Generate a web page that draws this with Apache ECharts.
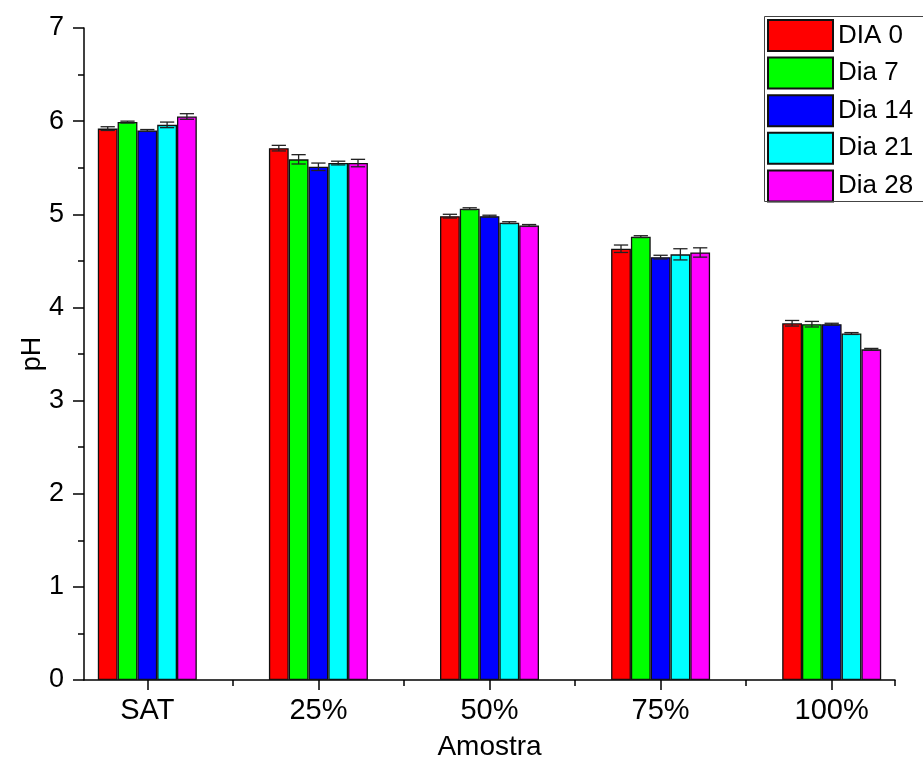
<!DOCTYPE html>
<html>
<head>
<meta charset="utf-8">
<script src="https://cdn.jsdelivr.net/npm/echarts@6/dist/echarts.min.js"></script>
<style>html,body{margin:0;padding:0;background:#fff}#c{width:923px;height:760px}</style>
</head>
<body>
<div id="c"></div>
<script>
const categories = ['SAT', '25%', '50%', '75%', '100%'];
const seriesNames = ['DIA 0', 'Dia 7', 'Dia 14', 'Dia 21', 'Dia 28'];
const colors = ['#ff0000', '#00ff00', '#0000ff', '#00ffff', '#ff00ff'];
const dia0 = [5.92, 5.71, 4.98, 4.63, 3.83];
const dia7 = [5.99, 5.59, 5.06, 4.76, 3.82];
const dia14 = [5.90, 5.51, 4.98, 4.54, 3.82];
const dia21 = [5.96, 5.55, 4.91, 4.57, 3.72];
const dia28 = [6.05, 5.55, 4.88, 4.59, 3.55];
const err0 = [0.02, 0.03, 0.02, 0.04, 0.03];
const err7 = [0.01, 0.05, 0.01, 0.01, 0.03];
const err14 = [0.01, 0.04, 0.01, 0.02, 0.01];
const err21 = [0.03, 0.02, 0.01, 0.06, 0.01];
const err28 = [0.03, 0.04, 0.01, 0.05, 0.01];
const yTicks = [0, 1, 2, 3, 4, 5, 6, 7];

const values = [dia0, dia7, dia14, dia21, dia28];
const errs = [err0, err7, err14, err21, err28];
const BAR_FRAC = 0.1157;
const FONT = "'Liberation Sans', Arial, sans-serif";

const chart = echarts.init(document.getElementById('c'));
const series = [];
values.forEach((vals, k) => {
  series.push({
    name: seriesNames[k],
    type: 'bar',
    xAxisIndex: 0,
    barWidth: (BAR_FRAC * 100) + '%',
    barGap: '0%',
    itemStyle: { color: colors[k], borderColor: '#111', borderWidth: 1.3 },
    data: vals.map((v, i) => [i, v])
  });
});
values.forEach((vals, k) => {
  series.push({
    type: 'custom',
    xAxisIndex: 0,
    z: 5,
    silent: true,
    data: vals.map((v, i) => [i, v, errs[k][i]]),
    renderItem: function (params, api) {
      const x = api.value(0), y = api.value(1), e = api.value(2);
      const band = api.size([1, 0])[0];
      const bw = band * BAR_FRAC;
      const off = (k - 2) * bw;
      const p = api.coord([x, y + e]);
      const q = api.coord([x, y - e]);
      const cx = p[0] + off;
      const hw = bw * 0.36;
      const st = { stroke: '#222', lineWidth: 1.3 };
      return {
        type: 'group',
        children: [
          { type: 'line', shape: { x1: cx, y1: p[1], x2: cx, y2: q[1] }, style: st },
          { type: 'line', shape: { x1: cx - hw, y1: p[1], x2: cx + hw, y2: p[1] }, style: st },
          { type: 'line', shape: { x1: cx - hw, y1: q[1], x2: cx + hw, y2: q[1] }, style: st }
        ]
      };
    }
  });
});

chart.setOption({
  backgroundColor: '#fff',
  animation: false,
  textStyle: { fontFamily: FONT },
  grid: { left: 84, right: 28, top: 28, bottom: 80, outerBoundsMode: 'none', containLabel: false },
  graphic: [{
    type: 'rect',
    left: 762,
    top: 14,
    shape: { width: 200, height: 185 },
    style: { fill: 'none', stroke: '#444', lineWidth: 1 },
    z: 10
  }],
  legend: {
    data: seriesNames,
    orient: 'vertical',
    left: 762,
    top: 14,
    icon: 'rect',
    itemWidth: 65,
    itemHeight: 31,
    itemGap: 4.6,
    padding: [5, 5, 5, 5],
    borderWidth: 0,
    textStyle: { fontSize: 26, color: '#000', fontFamily: FONT }
  },
  xAxis: [
    {
      type: 'value',
      min: -0.37,
      max: 4.37,
      name: 'Amostra',
      nameLocation: 'middle',
      nameGap: 53,
      nameMoveOverlap: false,
      nameTextStyle: { fontSize: 28, color: '#000', fontFamily: FONT },
      axisLine: { show: true, onZero: false, lineStyle: { color: '#000', width: 1.5 } },
      axisTick: { show: true, length: 10, inside: false, customValues: [0, 1, 2, 3, 4], lineStyle: { color: '#000', width: 1.5 } },
      axisLabel: { show: true, customValues: [0, 1, 2, 3, 4], margin: 16, fontSize: 29, color: '#000', fontFamily: FONT,
        formatter: function (v) { return categories[Math.round(v)]; } },
      splitLine: { show: false }
    },
    {
      type: 'value',
      min: -0.37,
      max: 4.37,
      position: 'bottom',
      offset: 0,
      axisLine: { show: false, onZero: false },
      axisTick: { show: true, length: 6, inside: false, customValues: [0.5, 1.5, 2.5, 3.5, 4.37], lineStyle: { color: '#000', width: 1.5 } },
      axisLabel: { show: false },
      splitLine: { show: false }
    }
  ],
  yAxis: {
    type: 'value',
    min: 0,
    max: 7,
    interval: 1,
    name: 'pH',
    nameLocation: 'middle',
    nameGap: 38,
    nameMoveOverlap: false,
    nameRotate: 90,
    nameTextStyle: { fontSize: 27, color: '#000', fontFamily: FONT },
    axisLine: { show: true, onZero: false, lineStyle: { color: '#000', width: 1.5 } },
    axisTick: { show: true, length: 11, inside: false, lineStyle: { color: '#000', width: 1.5 } },
    minorTick: { show: true, splitNumber: 2, length: 6, lineStyle: { color: '#000', width: 1.5 } },
    axisLabel: { margin: 20, fontSize: 27, color: '#000', fontFamily: FONT,
      formatter: function (v) { return yTicks.indexOf(v) >= 0 ? String(v) : ''; } },
    splitLine: { show: false }
  },
  series: series
});
</script>
</body>
</html>
